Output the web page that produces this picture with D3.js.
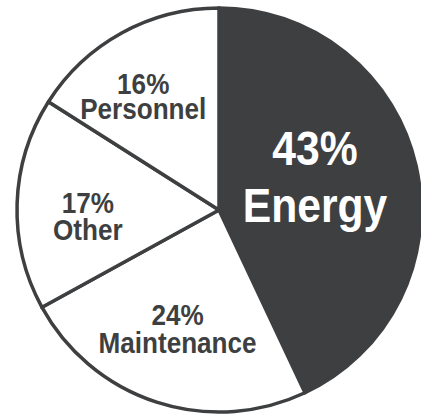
<!DOCTYPE html>
<html><head><meta charset="utf-8">
<script src="https://cdn.jsdelivr.net/npm/d3@7"></script>
<style>html,body{margin:0;padding:0;background:#fff;overflow:hidden}</style>
</head><body>
<svg id="chart" width="421" height="415"></svg>
<script>
// ---- data ----
const categories = ["Energy", "Maintenance", "Other", "Personnel"];
const values = [43, 24, 17, 16];
const percentLabels = ["43%", "24%", "17%", "16%"];

// ---- style / layout ----
const W = 421, H = 415;
const cx = 219, cy = 210, R = 202;
const dark = "#3e3f41";
const fills = [dark, "#ffffff", "#ffffff", "#ffffff"];
const textColors = ["#ffffff", dark, dark, dark];
const fontSizes = [49, 30, 30, 30];
const condense = 0.87;
const lineHalfGap = [28.5, 14, 13.5, 12.5];
const labelRadius = [0.5, 0.64, 0.64, 0.64];
const labelNudge = [[-2.6, 5.5], [-1.5, 6.3], [-2, 20.5], [-13.5, 9.5]];
const fontFamily = "'Liberation Sans', Arial, Helvetica, sans-serif";

const svg = d3.select("#chart");
const g = svg.append("g").attr("transform", `translate(${cx},${cy})`);

const pie = d3.pie().sort(null).value(d => d.value).startAngle(0).endAngle(2 * Math.PI);
const data = categories.map((c, i) => ({ name: c, value: values[i], pct: percentLabels[i], i }));
const arcs = pie(data);
const arc = d3.arc().innerRadius(0).outerRadius(R);

g.selectAll("path.slice")
  .data(arcs)
  .join("path")
  .attr("class", "slice")
  .attr("d", arc)
  .attr("fill", d => fills[d.data.i])
  .attr("stroke", dark)
  .attr("stroke-width", 3.5)
  .attr("stroke-linejoin", "round");

const labels = g.selectAll("text.lbl")
  .data(arcs)
  .join("text")
  .attr("class", "lbl")
  .attr("transform", d => {
    const i = d.data.i;
    const r = R * labelRadius[i];
    const c = d3.arc().innerRadius(r).outerRadius(r).centroid(d);
    return `translate(${c[0] + labelNudge[i][0]},${c[1] + labelNudge[i][1]}) scale(${condense},1)`;
  })
  .attr("text-anchor", "middle")
  .attr("font-family", fontFamily)
  .attr("font-weight", "bold")
  .attr("font-size", d => fontSizes[d.data.i])
  .attr("fill", d => textColors[d.data.i]);

labels.append("tspan").attr("x", 0).attr("y", d => -lineHalfGap[d.data.i]).text(d => d.data.pct);
labels.append("tspan").attr("x", 0).attr("y", d => lineHalfGap[d.data.i]).text(d => d.data.name);
</script>
</body></html>
